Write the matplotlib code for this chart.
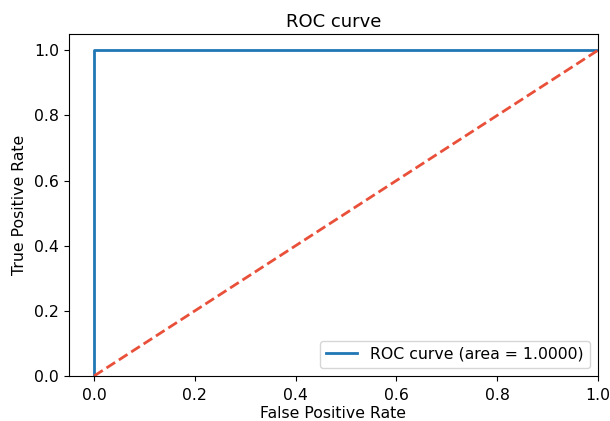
import matplotlib
matplotlib.use("Agg")
import matplotlib.pyplot as plt

fpr = [0.0, 0.0, 1.0]
tpr = [0.0, 1.0, 1.0]
diag_x = [0.0, 1.0]
diag_y = [0.0, 1.0]
auc_value = 1.0
xticks = [0.0, 0.2, 0.4, 0.6, 0.8, 1.0]
yticks = [0.0, 0.2, 0.4, 0.6, 0.8, 1.0]

fs = 11.3
plt.rcParams['font.family'] = ['DejaVu Sans']
fig = plt.figure(figsize=(6.1, 4.21), dpi=100)
ax = fig.add_axes([0.113, 0.107, 0.867, 0.812])
ax.plot(fpr, tpr, color='#1f77b4', lw=2, label='ROC curve (area = %0.4f)' % auc_value)
ax.plot(diag_x, diag_y, color='#e9503a', lw=2, linestyle='--')
ax.set_xlim(-0.05, 1.0)
ax.set_ylim(0.0, 1.05)
ax.set_xticks(xticks)
ax.set_yticks(yticks)
ax.tick_params(labelsize=fs)
ax.tick_params(axis='x', pad=5)
ax.set_xlabel('False Positive Rate', fontsize=fs, labelpad=2)
ax.set_ylabel('True Positive Rate', fontsize=fs, labelpad=5)
ax.set_title('ROC curve', fontsize=13, pad=5)
ax.legend(loc='lower right', fontsize=fs)
fig.savefig('out.png', dpi=100)
